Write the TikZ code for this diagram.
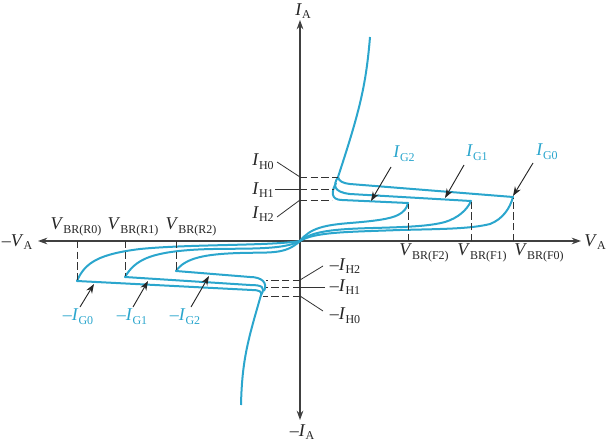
\documentclass[tikz,border=0pt]{standalone}
\usepackage{fontspec}
\setmainfont{Liberation Serif}
\usetikzlibrary{arrows.meta}
\definecolor{trace}{RGB}{43,166,205}
\newcommand{\qty}[2]{\textit{#1}\raisebox{-.45ex}{\fontsize{9}{10}\selectfont #2}}
\tikzset{
    curve/.style={trace,line width=1.5pt,line join=round},
    axis/.style={-{Stealth[length=7pt,width=5pt]},line width=.9pt,black!75},
    guide/.style={dash pattern=on 5.5pt off 2.5pt,line width=.75pt,black!80},
    leader/.style={line width=.6pt,black!80},
    pointer/.style={-{Stealth[length=7pt,width=5pt]},line width=.7pt,black!85},
    lbl/.style={inner sep=0pt,font=\fontsize{13.5}{15}\selectfont,black!85},
    gatelbl/.style={lbl,trace}
}
\begin{document}
\begin{tikzpicture}[x=.75pt,y=-.75pt]
    \useasboundingbox (0,0) rectangle (606,442);

    % axes
    \node[lbl] (Vplus)  at (595,242) {\qty{V}{A}};
    \node[lbl] (Vminus) at (17,242)  {--\qty{V}{A}};
    \node[lbl] (Iplus)  at (303,11)  {\qty{I}{A}};
    \node[lbl] (Iminus) at (302,432) {--\qty{I}{A}};
    \coordinate (O) at (300,241);
    \coordinate (xl) at (38,241);
    \coordinate (xr) at (581,241);
    \coordinate (yt) at (300,20);
    \coordinate (yb) at (300,420);
    \draw [axis] (O) -- (xl);
    \draw [axis] (O) -- (xr);
    \draw [axis] (O) -- (yt);
    \draw [axis] (O) -- (yb);

    % forward
    \draw [curve] (370,37) .. controls (366,85) and (360,110) .. (338,177)
        .. controls (339,181) and (342,183) .. (350,184) -- (513,197)
        .. controls (510,208) and (503,219) .. (490,224)
        .. controls (470,229) and (440,229) .. (400,230)
        .. controls (345,232) and (315,232) .. (O);
    \draw [curve] (338,177) .. controls (333,185) and (333,192) .. (350,194) -- (471,201)
        .. controls (467,210) and (458,218) .. (445,222)
        .. controls (430,226) and (410,227) .. (373,228)
        .. controls (335,229) and (312,231) .. (O);
    \draw [curve] (336,183) .. controls (331,192) and (331,200) .. (342,200) -- (408,203)
        .. controls (407,208) and (404,212) .. (398,215)
        .. controls (390,219) and (375,221) .. (350,223)
        .. controls (325,225) and (310,228) .. (O);

    % reverse
    \draw [curve] (241,405) .. controls (242,360) and (248,340) .. (261,295)
        .. controls (262,292) and (260,290) .. (252,290) -- (77,281)
        .. controls (85,262) and (100,254) .. (140,249)
        .. controls (190,244) and (270,246) .. (O);
    \draw [curve] (261,295) .. controls (266,287) and (262,285) .. (250,285) -- (125,277)
        .. controls (135,260) and (150,253) .. (190,250)
        .. controls (230,247) and (280,252) .. (O);
    \draw [curve] (264,291) .. controls (268,283) and (262,277) .. (250,277) -- (176,271)
        .. controls (185,258) and (205,254) .. (240,253)
        .. controls (270,252) and (285,255) .. (O);

    % breakover voltages
    \node[lbl] (VF2) at (424,253) {\qty{V}{BR(F2)}};
    \node[lbl] (VF1) at (482,253) {\qty{V}{BR(F1)}};
    \node[lbl] (VF0) at (539,253) {\qty{V}{BR(F0)}};
    \node[lbl] (VR0) at (76,227)  {\qty{V}{BR(R0)}};
    \node[lbl] (VR1) at (133,227) {\qty{V}{BR(R1)}};
    \node[lbl] (VR2) at (191,227) {\qty{V}{BR(R2)}};
    \coordinate (f2a) at (408,241); \coordinate (f2b) at (408,204);
    \coordinate (f1a) at (471,241); \coordinate (f1b) at (471,202);
    \coordinate (f0a) at (513,241); \coordinate (f0b) at (513,198);
    \coordinate (r0a) at (77,241);  \coordinate (r0b) at (77,280);
    \coordinate (r1a) at (125,241); \coordinate (r1b) at (125,276);
    \coordinate (r2a) at (176,241); \coordinate (r2b) at (176,270);
    \foreach \a/\b in {f2a/f2b,f1a/f1b,f0a/f0b,r0a/r0b,r1a/r1b,r2a/r2b}
        \draw [guide] (\a) -- (\b);

    % holding currents
    \node[lbl] (H0) at (263,162) {\qty{I}{H0}};
    \node[lbl] (H1) at (263,190) {\qty{I}{H1}};
    \node[lbl] (H2) at (263,214) {\qty{I}{H2}};
    \node[lbl] (mH2) at (345,266) {--\qty{I}{H2}};
    \node[lbl] (mH1) at (345,287) {--\qty{I}{H1}};
    \node[lbl] (mH0) at (345,316) {--\qty{I}{H0}};
    \coordinate (a0) at (300,177); \coordinate (b0) at (338,177);
    \coordinate (a1) at (300,189); \coordinate (b1) at (334,189);
    \coordinate (a2) at (300,200); \coordinate (b2) at (332,200);
    \coordinate (c2) at (300,280); \coordinate (d2) at (266,280);
    \coordinate (c1) at (300,287); \coordinate (d1) at (266,287);
    \coordinate (c0) at (300,296); \coordinate (d0) at (263,296);
    \foreach \a/\b in {a0/b0,a1/b1,a2/b2,c2/d2,c1/d1,c0/d0}
        \draw [guide] (\a) -- (\b);
    \coordinate (h0) at (277,162);
    \coordinate (h1) at (275,189);
    \coordinate (h2) at (277,217);
    \coordinate (g2) at (323,266);
    \coordinate (g1) at (325,287);
    \coordinate (g0) at (323,311);
    \foreach \a/\b in {h0/a0,h1/a1,h2/a2,g2/c2,g1/c1,g0/c0}
        \draw [leader] (\a) -- (\b);

    % gate currents
    \node[gatelbl] (G2) at (404,154) {\qty{I}{G2}};
    \node[gatelbl] (G1) at (477,153) {\qty{I}{G1}};
    \node[gatelbl] (G0) at (547,152) {\qty{I}{G0}};
    \node[gatelbl] (mG0) at (78,317)  {--\qty{I}{G0}};
    \node[gatelbl] (mG1) at (132,317) {--\qty{I}{G1}};
    \node[gatelbl] (mG2) at (185,317) {--\qty{I}{G2}};
    \coordinate (p2) at (391,167); \coordinate (t2) at (371,201);
    \coordinate (p1) at (464,165); \coordinate (t1) at (445,198);
    \coordinate (p0) at (533,163); \coordinate (t0) at (513,196);
    \coordinate (q0) at (80,307);  \coordinate (s0) at (94,284);
    \coordinate (q1) at (133,307); \coordinate (s1) at (148,281);
    \coordinate (q2) at (191,307); \coordinate (s2) at (209,276);
    \foreach \a/\b in {p2/t2,p1/t1,p0/t0,q0/s0,q1/s1,q2/s2}
        \draw [pointer] (\a) -- (\b);
\end{tikzpicture}
\end{document}
